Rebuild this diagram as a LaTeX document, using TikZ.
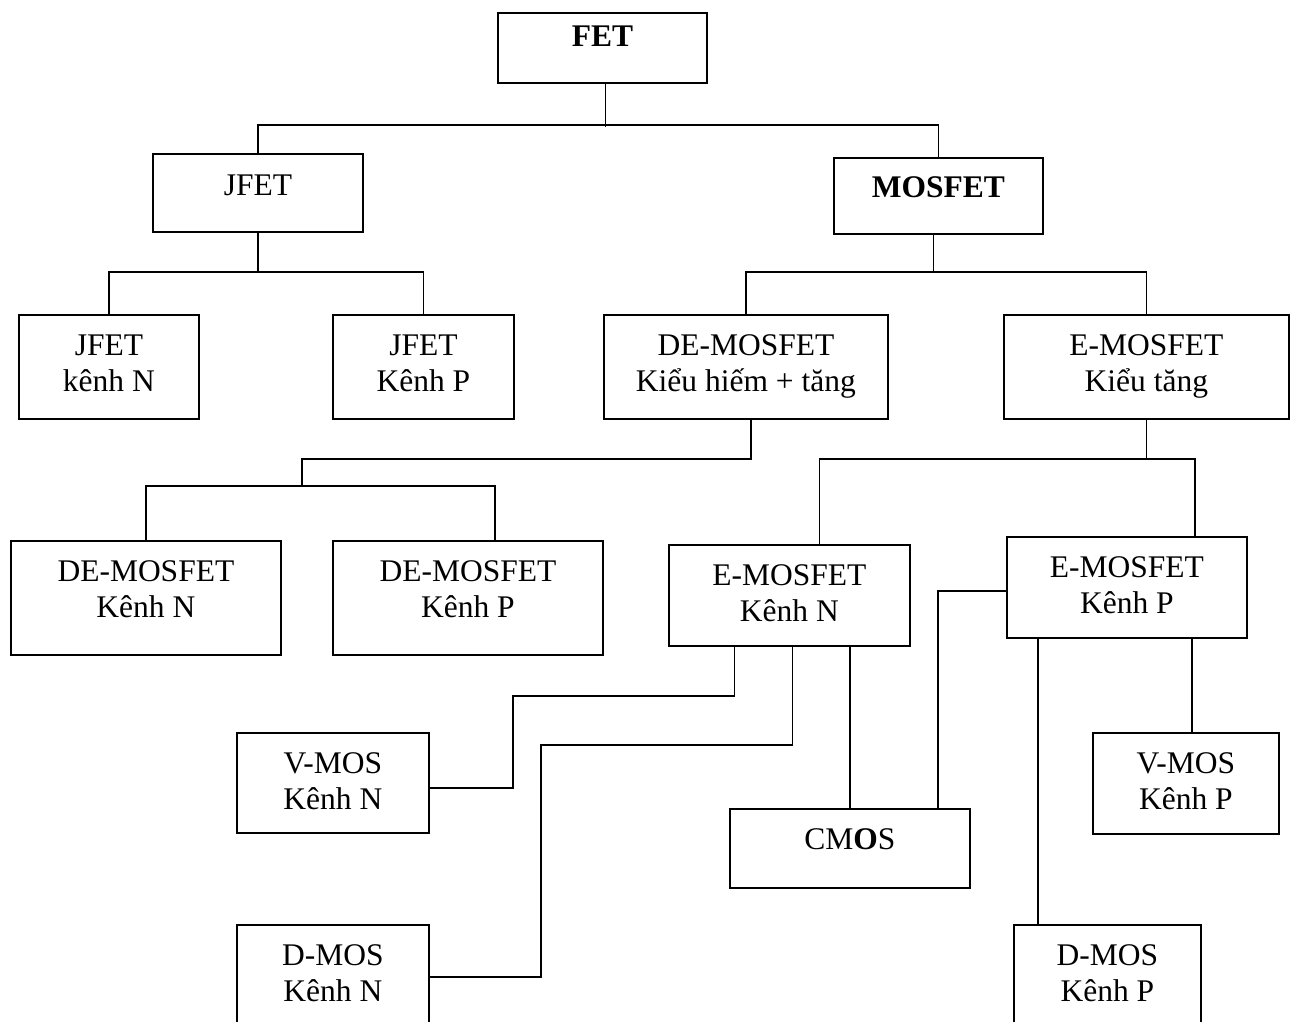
\documentclass[tikz,border=0pt]{standalone}
\usepackage{fontspec}
\setmainfont{Liberation Serif}
\usetikzlibrary{calc}
\newcommand{\twolines}[2]{\begin{tabular}[t]{@{}c@{}}#1\\#2\end{tabular}}
\begin{document}
\begin{tikzpicture}[x=1pt,y=-1pt,
  box/.style={draw, line width=1.8pt, anchor=north west, inner sep=0pt},
  lbl/.style={anchor=base, inner sep=0pt, font=\fontsize{31.5}{36.5}\selectfont},
  wire/.style={line width=1.6pt}]
\useasboundingbox (0,0) rectangle (1293,1022);
\renewcommand{\arraystretch}{1}
% boxes
\node[box, minimum width=209, minimum height=70]  (fet)   at (497,12)  {};
\node[box, minimum width=210, minimum height=78]  (jfet)  at (152,153) {};
\node[box, minimum width=209, minimum height=76]  (mos)   at (833,157) {};
\node[box, minimum width=180, minimum height=104] (jn)    at (18,314)  {};
\node[box, minimum width=181, minimum height=104] (jp)    at (332,314) {};
\node[box, minimum width=284, minimum height=104] (de)    at (603,314) {};
\node[box, minimum width=285, minimum height=104] (em)    at (1003,314) {};
\node[box, minimum width=270, minimum height=114] (den)   at (10,540)  {};
\node[box, minimum width=270, minimum height=114] (dep)   at (332,540) {};
\node[box, minimum width=241, minimum height=101] (emn)   at (668,544) {};
\node[box, minimum width=240, minimum height=101] (emp)   at (1006,536) {};
\node[box, minimum width=192, minimum height=100] (vmn)   at (236,732) {};
\node[box, minimum width=240, minimum height=79]  (cmos)  at (729,808) {};
\node[box, minimum width=186, minimum height=101] (vmp)   at (1092,732) {};
\node[box, minimum width=192, minimum height=110] (dmn)   at (236,924) {};
\node[box, minimum width=187, minimum height=110] (dmp)   at (1013,924) {};
% texts
\node[lbl] (fet-t)  at ([yshift=-35pt]fet.north)  {\textbf{FET}};
\node[lbl] (jfet-t) at ([yshift=-42pt]jfet.north) {JFET};
\node[lbl] (mos-t)  at ([yshift=-40pt]mos.north)  {\textbf{MOSFET}};
\node[lbl] (jn-t)   at ([yshift=-41pt]jn.north)   {\twolines{JFET}{kênh N}};
\node[lbl] (jp-t)   at ([yshift=-41pt]jp.north)   {\twolines{JFET}{Kênh P}};
\node[lbl] (de-t)   at ([yshift=-41pt]de.north)   {\twolines{DE-MOSFET}{Kiểu hiếm + tăng}};
\node[lbl] (em-t)   at ([yshift=-41pt]em.north)   {\twolines{E-MOSFET}{Kiểu tăng}};
\node[lbl] (den-t)  at ([yshift=-41pt]den.north)  {\twolines{DE-MOSFET}{Kênh N}};
\node[lbl] (dep-t)  at ([yshift=-41pt]dep.north)  {\twolines{DE-MOSFET}{Kênh P}};
\node[lbl] (emn-t)  at ([yshift=-41pt]emn.north)  {\twolines{E-MOSFET}{Kênh N}};
\node[lbl] (emp-t)  at ([yshift=-41pt]emp.north)  {\twolines{E-MOSFET}{Kênh P}};
\node[lbl] (vmn-t)  at ([yshift=-41pt]vmn.north)  {\twolines{V-MOS}{Kênh N}};
\node[lbl] (cmos-t) at ([yshift=-41pt]cmos.north) {CM\textbf{O}S};
\node[lbl] (vmp-t)  at ([yshift=-41pt]vmp.north)  {\twolines{V-MOS}{Kênh P}};
\node[lbl] (dmn-t)  at ([yshift=-41pt]dmn.north)  {\twolines{D-MOS}{Kênh N}};
\node[lbl] (dmp-t)  at ([yshift=-41pt]dmp.north)  {\twolines{D-MOS}{Kênh P}};
% connectors
\draw[wire] ([xshift=3pt]fet.south) -- ([xshift=3pt]fet.south |- 0,127);
\draw[wire] (jfet.north) |- (mos.north |- 0,125) -- (mos.north);
\draw[wire] (jfet.south) -- (jfet.south |- 0,272);
\draw[wire] (jn.north) |- (jp.north |- 0,272) -- (jp.north);
\draw[wire] ([xshift=-5pt]mos.south) -- ([xshift=-5pt]mos.south |- 0,272);
\draw[wire] (de.north) |- (em.north |- 0,272) -- (em.north);
\draw[wire] ([xshift=5pt]de.south) |- (302,459) -- (302,486);
\draw[wire] (den.north) |- ([xshift=27pt]dep.north |- 0,486) -- ([xshift=27pt]dep.north);
\draw[wire] (em.south) -- (em.south |- 0,459);
\draw[wire] ([xshift=30pt]emn.north) |- ([xshift=68pt]emp.north |- 0,459) -- ([xshift=68pt]emp.north);
\draw[wire] ([xshift=-55pt]emn.south) |- (513,696) |- ([yshift=-5pt]vmn.east);
\draw[wire] ([xshift=3pt]emn.south) |- (541,745) |- ([yshift=-53pt]dmn.north east);
\draw[wire] (emn.south -| cmos.north) -- (cmos.north);
\draw[wire] ([xshift=88pt]cmos.north) |- ([yshift=-55pt]emp.north west);
\draw[wire] (emp.south -| 1038,0) -- (dmp.north -| 1038,0);
\draw[wire] (emp.south -| 1192,0) -- (vmp.north -| 1192,0);
\end{tikzpicture}
\end{document}
